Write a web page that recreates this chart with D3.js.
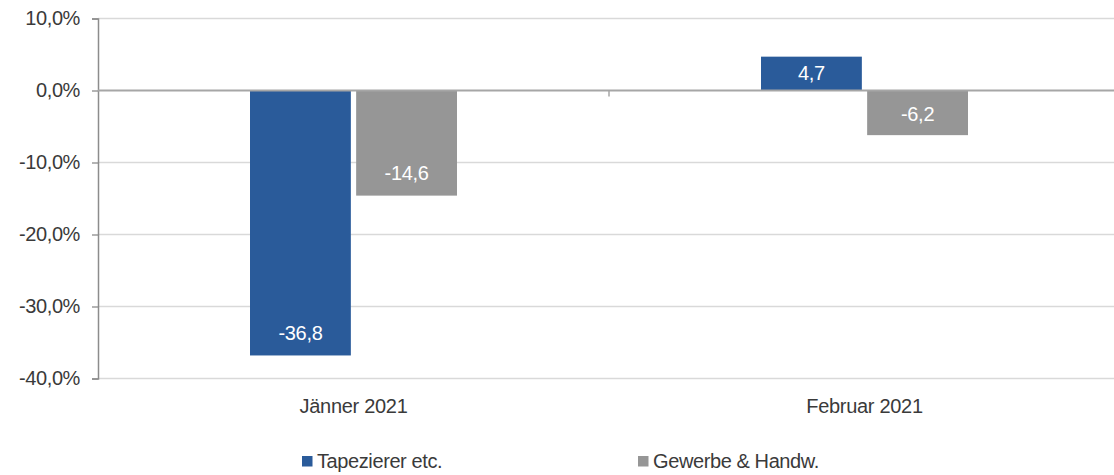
<!DOCTYPE html>
<html><head><meta charset="utf-8">
<script src="https://cdn.jsdelivr.net/npm/d3@7"></script>
<style>
html,body{margin:0;padding:0;background:#fff;}
text{font-family:"Liberation Sans",Arial,sans-serif;}
</style></head>
<body>
<svg id="c" width="1114" height="475"></svg>
<script>
const categories = ["Jänner 2021", "Februar 2021"];
const seriesNames = ["Tapezierer etc.", "Gewerbe & Handw."];
const tapezierer = [-36.8, 4.7];
const gewerbe = [-14.6, -6.2];
const yTicks = [10, 0, -10, -20, -30, -40];
const colors = ["#2A5B9A", "#969696"];

const seriesValues = [tapezierer, gewerbe];
const svg = d3.select("#c");
const fmt = v => d3.format(".1f")(v).replace(".", ",").replace("\u2212", "-");

const y = d3.scaleLinear().domain([-40, 10]).range([378.5, 18.5]);
const x0 = d3.scaleBand().domain(categories).range([98, 1120]).padding(0);
const bw = x0.bandwidth();
const x1 = d3.scaleBand().domain(seriesNames).range([bw/2 - 103.5, bw/2 + 103.5]).paddingInner(0.05);

// gridlines
svg.append("g").selectAll("line").data(yTicks.filter(t => t !== 0)).join("line")
  .attr("x1", 98).attr("x2", 1114)
  .attr("y1", d => y(d)).attr("y2", d => y(d))
  .attr("stroke", "#D9D9D9").attr("stroke-width", 1.3);

// y axis
const yAxis = d3.axisLeft(y).tickValues(yTicks).tickSize(6).tickPadding(12)
  .tickFormat(d => fmt(d) + "%");
const ya = svg.append("g").attr("transform", "translate(98,0)").call(yAxis);
ya.select(".domain").attr("stroke", "#8C8C8C").attr("stroke-width", 1.5);
ya.selectAll(".tick line").attr("stroke", "#8C8C8C").attr("stroke-width", 1.3);
ya.selectAll(".tick text").attr("font-size", 20).attr("fill", "#3A3A3A")
  .attr("font-family", "'Liberation Sans', Arial, sans-serif").attr("letter-spacing", "-0.4");

// bars
const data = [];
categories.forEach((c, i) => seriesNames.forEach((s, j) => data.push({c, s, j, v: seriesValues[j][i]})));
const g = svg.append("g");
g.selectAll("rect").data(data).join("rect")
  .attr("x", d => x0(d.c) + x1(d.s))
  .attr("width", x1.bandwidth())
  .attr("y", d => y(Math.max(0, d.v)))
  .attr("height", d => Math.abs(y(d.v) - y(0)))
  .attr("fill", d => colors[d.j]);

// zero line
svg.append("line").attr("x1", 98).attr("x2", 1114).attr("y1", y(0)).attr("y2", y(0))
  .attr("stroke", "#A6A6A6").attr("stroke-width", 2);
// category separator tick
svg.append("g").selectAll("line").data(categories.slice(1)).join("line")
  .attr("x1", d => x0(d)).attr("x2", d => x0(d))
  .attr("y1", y(0)).attr("y2", y(0) + 6)
  .attr("stroke", "#A6A6A6").attr("stroke-width", 1.5);

// value labels
g.selectAll("text.val").data(data).join("text").attr("class", "val")
  .attr("x", d => x0(d.c) + x1(d.s) + x1.bandwidth()/2)
  .attr("y", d => {
    const h = Math.abs(y(d.v) - y(0));
    const off = Math.min(23, h * 0.48);
    return d.v < 0 ? y(d.v) - off : y(d.v) + off;
  })
  .attr("dy", "0.36em")
  .attr("text-anchor", "middle").attr("font-size", 20).attr("fill", "#fff")
  .attr("letter-spacing", "-0.3")
  .text(d => fmt(d.v));

// category labels
svg.append("g").selectAll("text").data(categories).join("text")
  .attr("x", d => x0(d) + bw/2).attr("y", 412.5)
  .attr("text-anchor", "middle").attr("font-size", 20).attr("fill", "#3A3A3A")
  .attr("letter-spacing", "-0.3")
  .text(d => d);

// legend
const legX = [302, 638];
const lg = svg.append("g").selectAll("g").data(seriesNames).join("g")
  .attr("transform", (d, i) => `translate(${legX[i]},0)`);
lg.append("rect").attr("x", 0).attr("y", 456).attr("width", 10.5).attr("height", 10.5)
  .attr("fill", (d, i) => colors[i]);
lg.append("text").attr("x", 15).attr("y", 468).attr("font-size", 20).attr("fill", "#3A3A3A")
  .attr("letter-spacing", "-0.4")
  .text(d => d);
</script>
</body></html>
